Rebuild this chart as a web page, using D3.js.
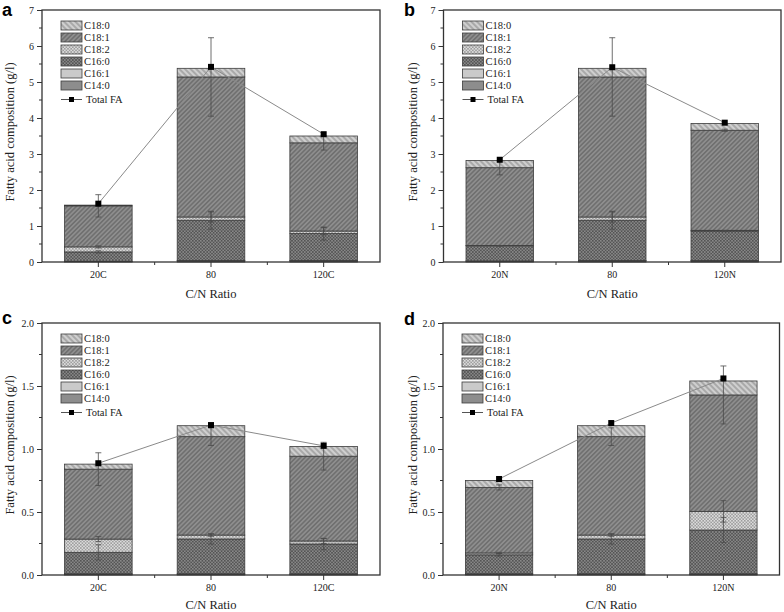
<!DOCTYPE html>
<html>
<head>
<meta charset="utf-8">
<script src="https://cdn.jsdelivr.net/npm/d3@7"></script>
<style>
  html, body { margin: 0; padding: 0; background: #fff; }
  svg { display: block; }
</style>
</head>
<body>
<script>
// ---------------- DATA ----------------
const panelLetters = ["a", "b", "c", "d"];
const categoriesC = ["20C", "80", "120C"];
const categoriesN = ["20N", "80", "120N"];
const panelCategories = [categoriesC, categoriesN, categoriesC, categoriesN];
const seriesNames = ["C14:0", "C16:1", "C16:0", "C18:2", "C18:1", "C18:0"];

// values per panel (a, b, c, d), each row: [first, 80, last]
const C14_0 = [[0.01, 0.03, 0.03], [0.02, 0.03, 0.03], [0.005, 0.005, 0.005], [0.005, 0.005, 0.005]];
const C16_1 = [[0.01, 0.01, 0.01], [0.01, 0.01, 0.01], [0.005, 0.005, 0.005], [0.005, 0.005, 0.005]];
const C16_0 = [[0.26, 1.12, 0.75], [0.42, 1.12, 0.82], [0.17, 0.276, 0.236], [0.15, 0.276, 0.347]];
const C18_2 = [[0.14, 0.09, 0.07], [0.01, 0.09, 0.02], [0.105, 0.031, 0.024], [0.015, 0.031, 0.148]];
const C18_1 = [[1.14, 3.89, 2.45], [2.16, 3.89, 2.78], [0.555, 0.781, 0.673], [0.52, 0.781, 0.924]];
const C18_0 = [[0.02, 0.24, 0.19], [0.20, 0.24, 0.19], [0.04, 0.087, 0.077], [0.055, 0.087, 0.111]];
const totalFA = [[1.62, 5.42, 3.55], [2.84, 5.41, 3.87], [0.887, 1.19, 1.025], [0.762, 1.206, 1.56]];

// error bars (drawn at the stacked top of the layer)
const errC16_0 = [[0.03, 0.25, 0.18], [0.01, 0.25, 0.02], [0.06, 0.04, 0.045], [0.01, 0.04, 0.10]];
const errC18_2 = [[0.03, 0.14, 0.10], [0, 0.14, 0], [0.02, 0.01, 0.02], [0.005, 0.01, 0.085]];
const errC18_1 = [[0.31, 1.09, 0.20], [0.20, 1.09, 0.03], [0.13, 0.07, 0.11], [0.02, 0.07, 0.23]];

const yMaxes = [7, 7, 2, 2];
const yMajorSteps = [1, 1, 0.5, 0.5];
const yTickFormats = ["d", "d", ".1f", ".1f"];
const yTitle = "Fatty acid composition (g/l)";
const xTitle = "C/N Ratio";
const totalLabel = "Total FA";

// ---------------- LAYOUT ----------------
const W = 784, H = 612;
const SERIF = "'Liberation Serif', 'Times New Roman', Times, serif";
const SANS = "'Liberation Sans', Arial, Helvetica, sans-serif";
const boxes = [
  { left: 42, right: 380, top: 10, bottom: 262, lx: 2, ly: 16, tx: 10, xty: 298 },
  { left: 443.5, right: 781, top: 10, bottom: 262, lx: 404, ly: 16, tx: 413, xty: 298 },
  { left: 42, right: 380, top: 323, bottom: 575, lx: 2, ly: 324, tx: 10, xty: 609 },
  { left: 443, right: 779.5, top: 323, bottom: 575, lx: 404, ly: 325, tx: 413, xty: 609 }
];

const svg = d3.select("body").append("svg")
  .attr("width", W).attr("height", H)
  .attr("font-family", SERIF);

// ---------------- PATTERNS ----------------
const defs = svg.append("defs");
function linePattern(id, size, angle, bg, fg, sw) {
  const p = defs.append("pattern").attr("id", id)
    .attr("patternUnits", "userSpaceOnUse")
    .attr("width", size).attr("height", size)
    .attr("patternTransform", `rotate(${angle})`);
  p.append("rect").attr("width", size).attr("height", size).attr("fill", bg);
  p.append("line").attr("x1", size / 2).attr("x2", size / 2).attr("y1", 0).attr("y2", size)
    .attr("stroke", fg).attr("stroke-width", sw);
}
function checkPattern(id, cell, c1, c2) {
  const p = defs.append("pattern").attr("id", id)
    .attr("patternUnits", "userSpaceOnUse")
    .attr("width", cell * 2).attr("height", cell * 2);
  p.append("rect").attr("width", cell * 2).attr("height", cell * 2).attr("fill", c1);
  p.append("rect").attr("width", cell).attr("height", cell).attr("fill", c2);
  p.append("rect").attr("x", cell).attr("y", cell).attr("width", cell).attr("height", cell).attr("fill", c2);
}
linePattern("p-c180", 4, -45, "#cfcfcf", "#8a8a8a", 1.1);
linePattern("p-c181", 3.2, 45, "#8e8e8e", "#626262", 1.1);
checkPattern("p-c182", 1.6, "#dcdcdc", "#9e9e9e");
checkPattern("p-c160", 1.6, "#888888", "#545454");

const fills = {
  "C14:0": "#8d8d8d",
  "C16:1": "#cacaca",
  "C16:0": "url(#p-c160)",
  "C18:2": "url(#p-c182)",
  "C18:1": "url(#p-c181)",
  "C18:0": "url(#p-c180)"
};
const seriesArrays = { "C14:0": C14_0, "C16:1": C16_1, "C16:0": C16_0, "C18:2": C18_2, "C18:1": C18_1, "C18:0": C18_0 };
const errArrays = { "C16:0": errC16_0, "C18:2": errC18_2, "C18:1": errC18_1 };

// ---------------- DRAW ----------------
function drawPanel(pi) {
  const b = boxes[pi];
  const cats = panelCategories[pi];
  const g = svg.append("g");

  const x = d3.scaleBand().domain(cats).range([b.left, b.right]).paddingInner(0.4).paddingOuter(0.2);
  const y = d3.scaleLinear().domain([0, yMaxes[pi]]).range([b.bottom, b.top]);

  const rows = cats.map((c, i) => {
    const r = { cat: c };
    seriesNames.forEach(s => r[s] = seriesArrays[s][pi][i]);
    return r;
  });
  const stacked = d3.stack().keys(seriesNames)(rows);

  // bars
  stacked.forEach(layer => {
    g.append("g").selectAll("rect").data(layer).join("rect")
      .attr("x", d => x(d.data.cat))
      .attr("width", x.bandwidth())
      .attr("y", d => y(d[1]))
      .attr("height", d => Math.max(0, y(d[0]) - y(d[1])))
      .attr("fill", fills[layer.key])
      .attr("stroke", "#3c3c3c")
      .attr("stroke-width", 0.8);
  });

  // error bars
  stacked.forEach(layer => {
    const errs = errArrays[layer.key];
    if (!errs) return;
    layer.forEach((d, i) => {
      const e = errs[pi][i];
      if (!e) return;
      const cx = x(d.data.cat) + x.bandwidth() / 2;
      const y1 = y(d[1] + e), y2 = y(Math.max(0, d[1] - e));
      const eg = g.append("g").attr("stroke", "#4a4a4a").attr("stroke-width", 0.8);
      eg.append("line").attr("x1", cx).attr("x2", cx).attr("y1", y1).attr("y2", y2);
      eg.append("line").attr("x1", cx - 3).attr("x2", cx + 3).attr("y1", y1).attr("y2", y1);
      eg.append("line").attr("x1", cx - 3).attr("x2", cx + 3).attr("y1", y2).attr("y2", y2);
    });
  });

  // total FA line + markers
  const tot = cats.map((c, i) => ({ cat: c, v: totalFA[pi][i] }));
  g.append("path").datum(tot)
    .attr("fill", "none").attr("stroke", "#8a8a8a").attr("stroke-width", 1)
    .attr("d", d3.line().x(d => x(d.cat) + x.bandwidth() / 2).y(d => y(d.v)));
  g.append("g").selectAll("rect").data(tot).join("rect")
    .attr("x", d => x(d.cat) + x.bandwidth() / 2 - 3)
    .attr("y", d => y(d.v) - 3)
    .attr("width", 6).attr("height", 6)
    .attr("fill", "#000");

  // frame
  g.append("rect").attr("x", b.left).attr("y", b.top)
    .attr("width", b.right - b.left).attr("height", b.bottom - b.top)
    .attr("fill", "none").attr("stroke", "#333").attr("stroke-width", 1.3);

  // y axis
  const step = yMajorSteps[pi];
  const majors = d3.range(0, yMaxes[pi] + step / 2, step);
  const yAxis = d3.axisLeft(y).tickValues(majors).tickSize(5).tickPadding(3)
    .tickFormat(d3.format(yTickFormats[pi]));
  const ya = g.append("g").attr("transform", `translate(${b.left},0)`).call(yAxis)
    .attr("font-family", SERIF);
  ya.select(".domain").remove();
  ya.selectAll("line").attr("stroke", "#333");
  ya.selectAll("text").attr("font-size", 10).attr("fill", "#222").attr("font-family", SERIF);
  const minors = d3.range(step / 2, yMaxes[pi], step);
  g.append("g").selectAll("line").data(minors).join("line")
    .attr("x1", b.left - 3).attr("x2", b.left)
    .attr("y1", d => y(d)).attr("y2", d => y(d))
    .attr("stroke", "#333");

  // x axis
  const xAxis = d3.axisBottom(x).tickSize(5).tickPadding(4);
  const xa = g.append("g").attr("transform", `translate(0,${b.bottom})`).call(xAxis)
    .attr("font-family", SERIF);
  xa.select(".domain").remove();
  xa.selectAll("line").attr("stroke", "#333");
  xa.selectAll("text").attr("font-size", 10).attr("fill", "#222").attr("font-family", SERIF);
  const bounds = cats.slice(1).map(c => x(c) - x.paddingOuter() * x.step());
  g.append("g").selectAll("line").data(bounds).join("line")
    .attr("x1", d => d).attr("x2", d => d)
    .attr("y1", b.bottom).attr("y2", b.bottom + 3)
    .attr("stroke", "#333");

  // titles
  g.append("text")
    .attr("transform", `translate(${b.tx},${(b.top + b.bottom) / 2 - 4}) rotate(-90)`)
    .attr("text-anchor", "middle").attr("dominant-baseline", "central")
    .attr("font-family", SERIF)
    .attr("font-size", 12.5).attr("fill", "#222").text(yTitle);
  g.append("text")
    .attr("x", (b.left + b.right) / 2).attr("y", b.xty)
    .attr("text-anchor", "middle").attr("font-family", SERIF)
    .attr("font-size", 12.5).attr("fill", "#222").text(xTitle);

  // panel letter
  g.append("text").attr("x", b.lx).attr("y", b.ly)
    .attr("font-family", SANS)
    .attr("font-weight", "bold").attr("font-size", 18).attr("fill", "#000")
    .text(panelLetters[pi]);

  // legend
  const lx = b.left + 19, ly0 = b.top + 15.5, rowH = 12;
  const legendSeries = seriesNames.slice().reverse();
  const lg = g.append("g");
  legendSeries.forEach((s, i) => {
    const cy = ly0 + i * rowH;
    lg.append("rect").attr("x", lx).attr("y", cy - 4.5).attr("width", 21).attr("height", 9)
      .attr("fill", fills[s]).attr("stroke", "#3c3c3c").attr("stroke-width", 0.8);
    lg.append("text").attr("x", lx + 23).attr("y", cy).attr("dominant-baseline", "central")
      .attr("font-family", SERIF)
      .attr("font-size", 10.5).attr("fill", "#222").text(s);
  });
  const cyT = ly0 + 6 * rowH + 2;
  lg.append("line").attr("x1", lx).attr("x2", lx + 21).attr("y1", cyT).attr("y2", cyT)
    .attr("stroke", "#555").attr("stroke-width", 1);
  lg.append("rect").attr("x", lx + 8).attr("y", cyT - 2.5).attr("width", 5).attr("height", 5).attr("fill", "#000");
  lg.append("text").attr("x", lx + 25).attr("y", cyT).attr("dominant-baseline", "central")
    .attr("font-family", SERIF)
    .attr("font-size", 10.5).attr("fill", "#222").text(totalLabel);
}

[0, 1, 2, 3].forEach(drawPanel);
</script>
</body>
</html>
